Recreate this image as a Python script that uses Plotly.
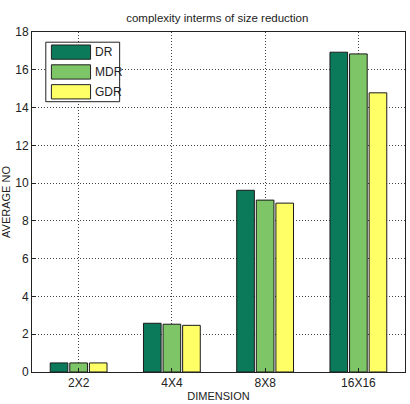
import plotly.graph_objects as go

categories = ["2X2", "4X4", "8X8", "16X16"]
series_names = ["DR", "MDR", "GDR"]
dr = [0.48, 2.58, 9.62, 16.93]
mdr = [0.48, 2.53, 9.10, 16.84]
gdr = [0.48, 2.47, 8.94, 14.78]
values = [dr, mdr, gdr]
colors = ["#0a7a5a", "#7dc566", "#ffff66"]
yticks = [0, 2, 4, 6, 8, 10, 12, 14, 16, 18]

fig = go.Figure()
xpos = list(range(1, len(categories) + 1))
for name, vals, col in zip(series_names, values, colors):
    fig.add_trace(go.Bar(x=xpos, y=vals, name=name, marker=dict(color=col, line=dict(color="#1a1a1a", width=1)),
                         showlegend=False))

# custom MATLAB-style legend
lx0, lx1 = 0.037, 0.235
ly1, ly0 = 0.97, 0.795
shapes = [dict(type="rect", xref="paper", yref="paper", x0=lx0, x1=lx1, y0=ly0, y1=ly1,
               line=dict(color="#222", width=1), fillcolor="white", layer="above")]
annotations = []
rowh = (ly1 - ly0) / 3
for i, (name, col) in enumerate(zip(series_names, colors)):
    yc = ly1 - rowh * (i + 0.5)
    shapes.append(dict(type="rect", xref="paper", yref="paper", x0=lx0 + 0.015, x1=lx0 + 0.12,
                       y0=yc - rowh * 0.36, y1=yc + rowh * 0.36,
                       line=dict(color="#222", width=1), fillcolor=col, layer="above"))
    annotations.append(dict(xref="paper", yref="paper", x=lx0 + 0.126, y=yc, text=name, showarrow=False,
                            xanchor="left", yanchor="middle", font=dict(size=12, color="#222")))

fig.update_layout(
    width=410, height=404,
    margin=dict(l=31, r=4, t=32, b=32),
    paper_bgcolor="white", plot_bgcolor="white",
    font=dict(family="Liberation Sans, Arial", size=12, color="#222"),
    title=dict(text="complexity interms of size reduction", x=0.53, xanchor="center", y=0.955, yanchor="middle",
               font=dict(size=11.5, color="#222")),
    barmode="group", bargap=0.37, bargroupgap=0.1,
    shapes=shapes, annotations=annotations,
    xaxis=dict(tickmode="array", tickvals=xpos, ticktext=categories, range=[0.5, 4.5],
               showgrid=True, gridcolor="#444", griddash="1px,2px", gridwidth=1,
               showline=True, linecolor="#222", linewidth=1, mirror=True,
               ticks="inside", ticklen=4, tickcolor="#222",
               title=dict(text="DIMENSION", standoff=2, font=dict(size=11))),
    yaxis=dict(tickvals=yticks, range=[0, 18],
               showgrid=True, gridcolor="#444", griddash="1px,2px", gridwidth=1,
               showline=True, linecolor="#222", linewidth=1, mirror=True,
               ticks="inside", ticklen=4, tickcolor="#222", zeroline=False,
               title=dict(text="AVERAGE NO", standoff=4, font=dict(size=11))),
)
fig.write_html("out.html")
